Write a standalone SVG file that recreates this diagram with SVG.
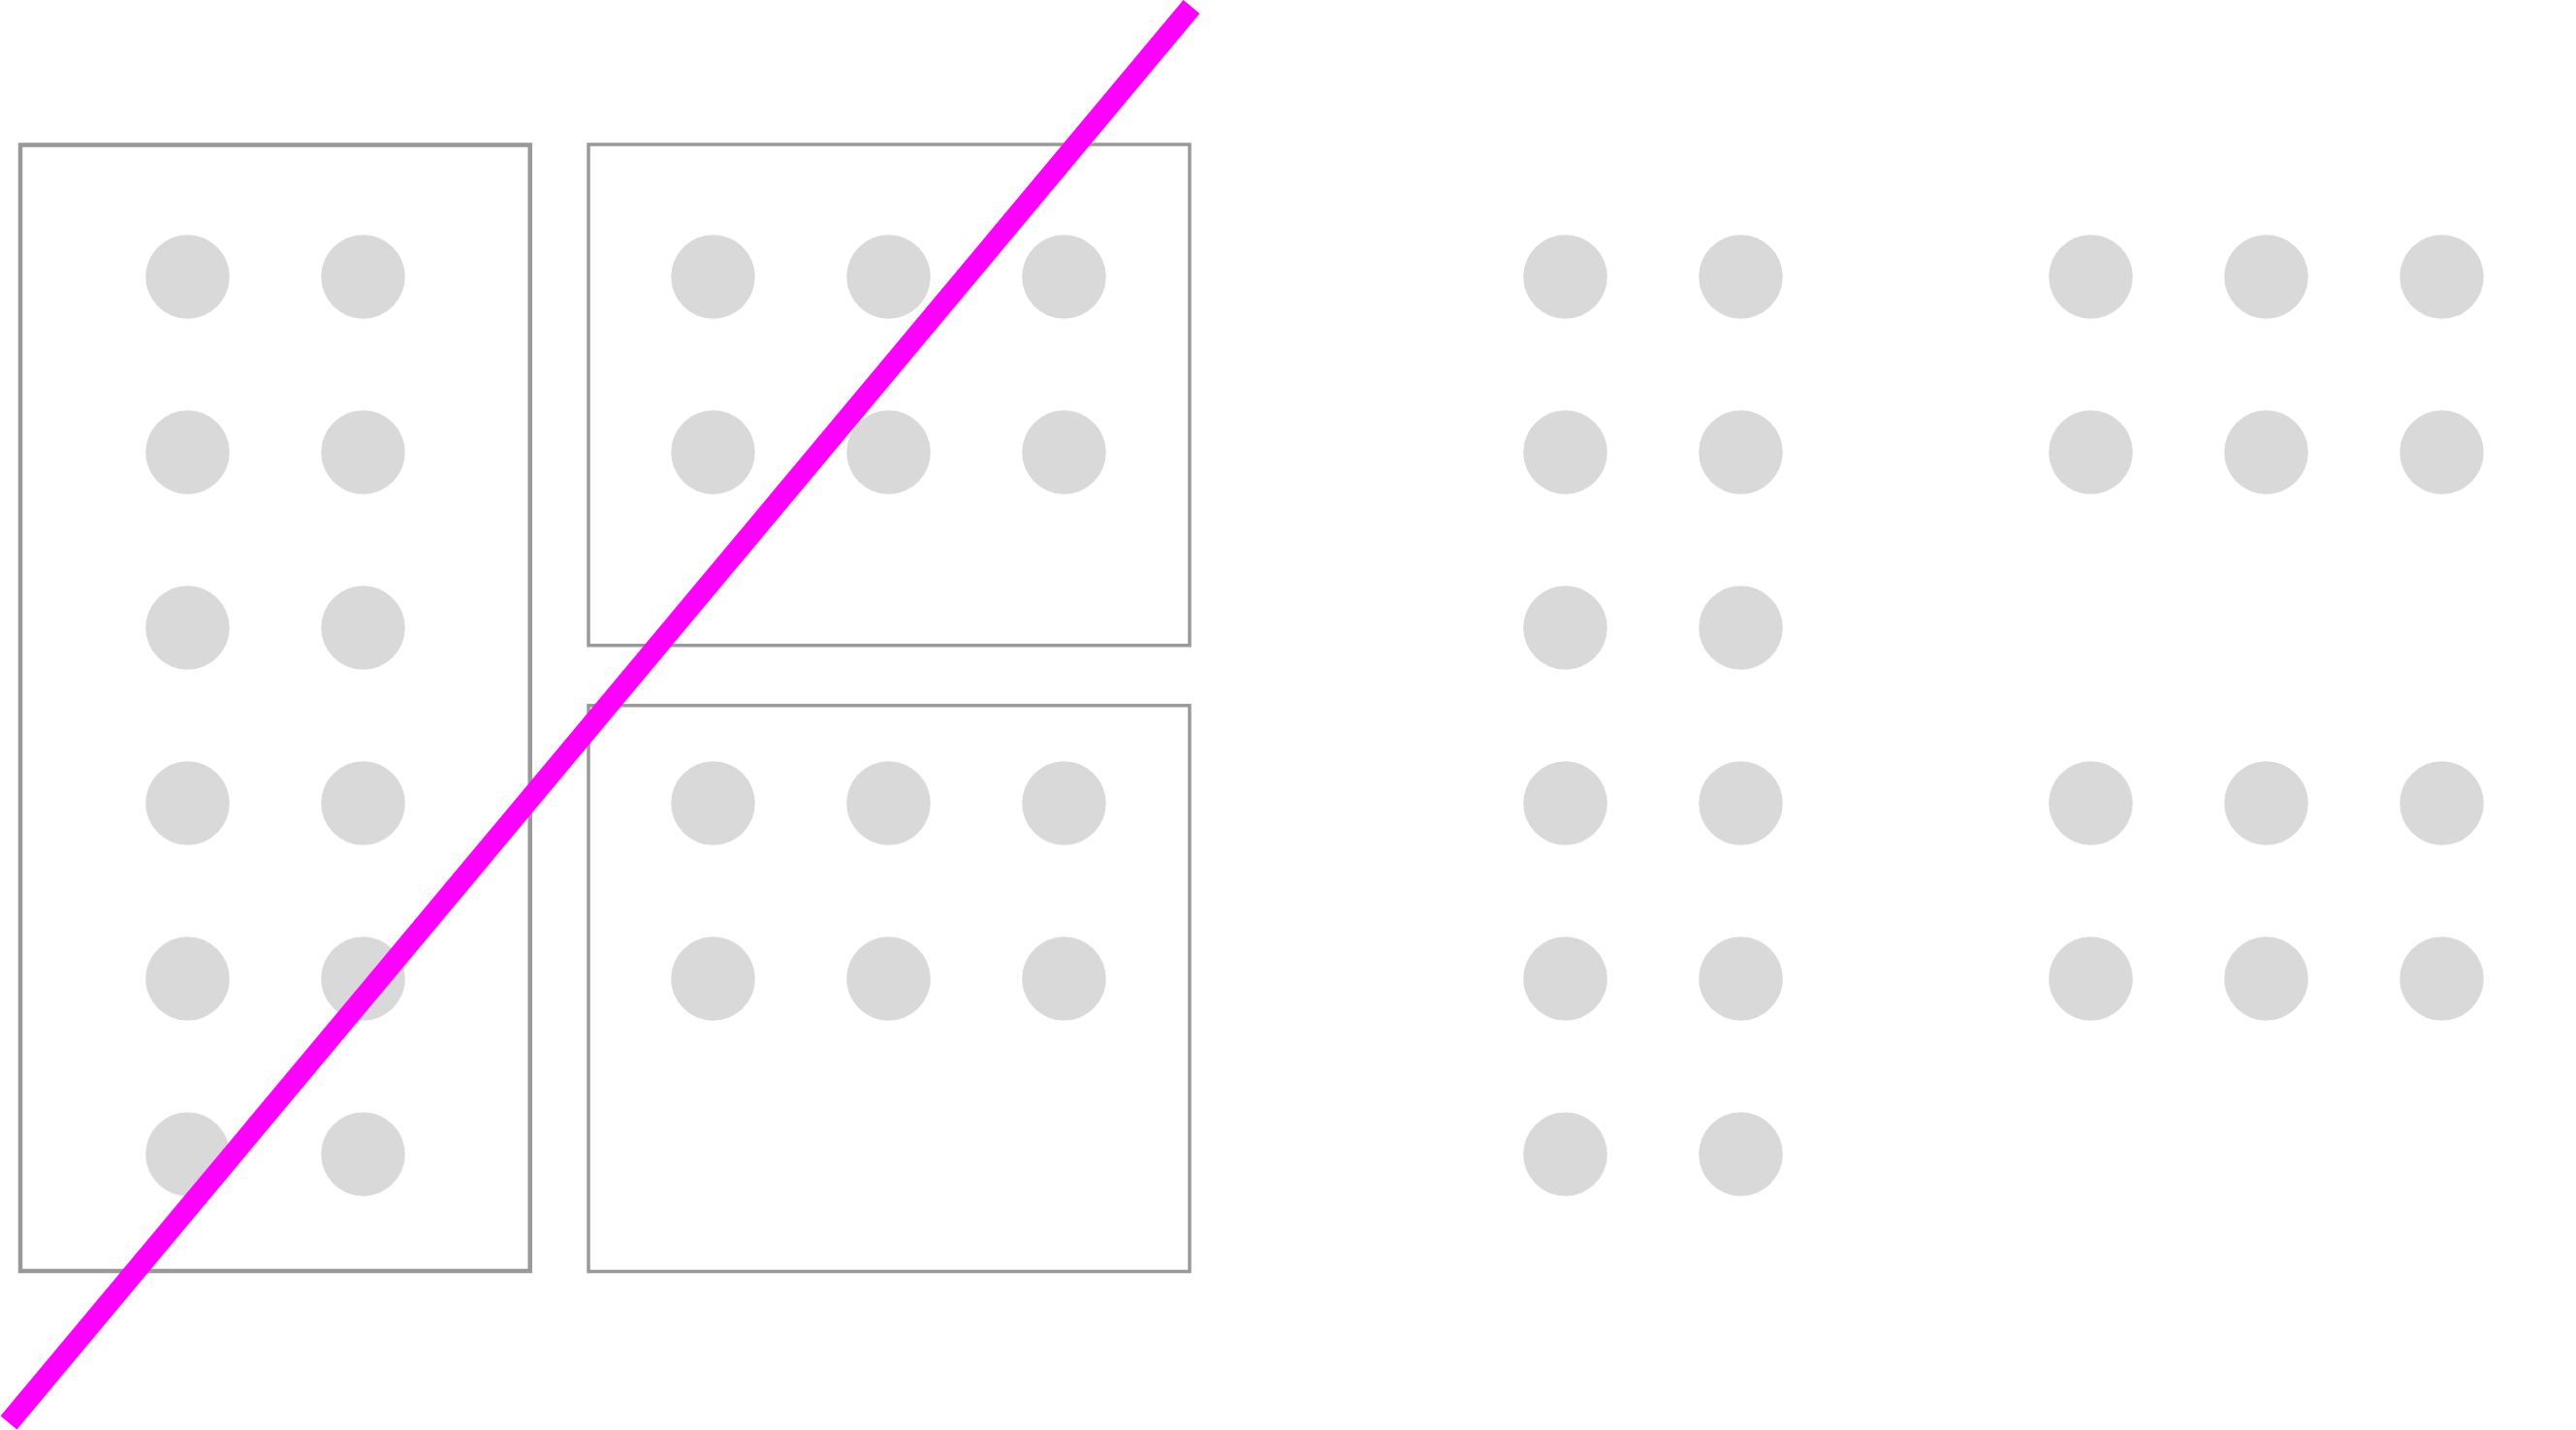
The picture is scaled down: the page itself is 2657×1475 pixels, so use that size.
<svg xmlns="http://www.w3.org/2000/svg" width="2657" height="1475" viewBox="0 0 2657 1475">
<style>
.box{fill:none;stroke:#999999}
.dot{fill:#d9d9d9}
.slash{stroke:#ff00ff;stroke-width:22;stroke-linecap:butt;fill:none}
</style>
<rect width="2657" height="1475" fill="#ffffff"/>
<g id="box-left">
<rect class="box" x="21" y="149.5" width="525.7" height="1161.5" stroke-width="4.5"/>
<circle class="dot" cx="193.5" cy="285.5" r="43.3"/><circle class="dot" cx="374.5" cy="285.5" r="43.3"/>
<circle class="dot" cx="193.5" cy="466.5" r="43.3"/><circle class="dot" cx="374.5" cy="466.5" r="43.3"/>
<circle class="dot" cx="193.5" cy="647.5" r="43.3"/><circle class="dot" cx="374.5" cy="647.5" r="43.3"/>
<circle class="dot" cx="193.5" cy="828.5" r="43.3"/><circle class="dot" cx="374.5" cy="828.5" r="43.3"/>
<circle class="dot" cx="193.5" cy="1009.5" r="43.3"/><circle class="dot" cx="374.5" cy="1009.5" r="43.3"/>
<circle class="dot" cx="193.5" cy="1190.5" r="43.3"/><circle class="dot" cx="374.5" cy="1190.5" r="43.3"/>
</g>
<g id="box-top">
<rect class="box" x="607" y="149" width="620" height="516.7" stroke-width="3.5"/>
<circle class="dot" cx="735.5" cy="285.5" r="43.3"/><circle class="dot" cx="916.5" cy="285.5" r="43.3"/><circle class="dot" cx="1097.5" cy="285.5" r="43.3"/>
<circle class="dot" cx="735.5" cy="466.5" r="43.3"/><circle class="dot" cx="916.5" cy="466.5" r="43.3"/><circle class="dot" cx="1097.5" cy="466.5" r="43.3"/>
</g>
<g id="box-bottom">
<rect class="box" x="607" y="727.7" width="620" height="583.8" stroke-width="3.5"/>
<circle class="dot" cx="735.5" cy="828.5" r="43.3"/><circle class="dot" cx="916.5" cy="828.5" r="43.3"/><circle class="dot" cx="1097.5" cy="828.5" r="43.3"/>
<circle class="dot" cx="735.5" cy="1009.5" r="43.3"/><circle class="dot" cx="916.5" cy="1009.5" r="43.3"/><circle class="dot" cx="1097.5" cy="1009.5" r="43.3"/>
</g>
<g id="grid-middle">
<circle class="dot" cx="1614.5" cy="285.5" r="43.3"/><circle class="dot" cx="1795.5" cy="285.5" r="43.3"/>
<circle class="dot" cx="1614.5" cy="466.5" r="43.3"/><circle class="dot" cx="1795.5" cy="466.5" r="43.3"/>
<circle class="dot" cx="1614.5" cy="647.5" r="43.3"/><circle class="dot" cx="1795.5" cy="647.5" r="43.3"/>
<circle class="dot" cx="1614.5" cy="828.5" r="43.3"/><circle class="dot" cx="1795.5" cy="828.5" r="43.3"/>
<circle class="dot" cx="1614.5" cy="1009.5" r="43.3"/><circle class="dot" cx="1795.5" cy="1009.5" r="43.3"/>
<circle class="dot" cx="1614.5" cy="1190.5" r="43.3"/><circle class="dot" cx="1795.5" cy="1190.5" r="43.3"/>
</g>
<g id="grid-right">
<circle class="dot" cx="2156.5" cy="285.5" r="43.3"/><circle class="dot" cx="2337.5" cy="285.5" r="43.3"/><circle class="dot" cx="2518.5" cy="285.5" r="43.3"/>
<circle class="dot" cx="2156.5" cy="466.5" r="43.3"/><circle class="dot" cx="2337.5" cy="466.5" r="43.3"/><circle class="dot" cx="2518.5" cy="466.5" r="43.3"/>
<circle class="dot" cx="2156.5" cy="828.5" r="43.3"/><circle class="dot" cx="2337.5" cy="828.5" r="43.3"/><circle class="dot" cx="2518.5" cy="828.5" r="43.3"/>
<circle class="dot" cx="2156.5" cy="1009.5" r="43.3"/><circle class="dot" cx="2337.5" cy="1009.5" r="43.3"/><circle class="dot" cx="2518.5" cy="1009.5" r="43.3"/>
</g>
<g id="connectors">
<line class="slash" x1="9" y1="1467.5" x2="1229" y2="7"/>
</g>
</svg>
